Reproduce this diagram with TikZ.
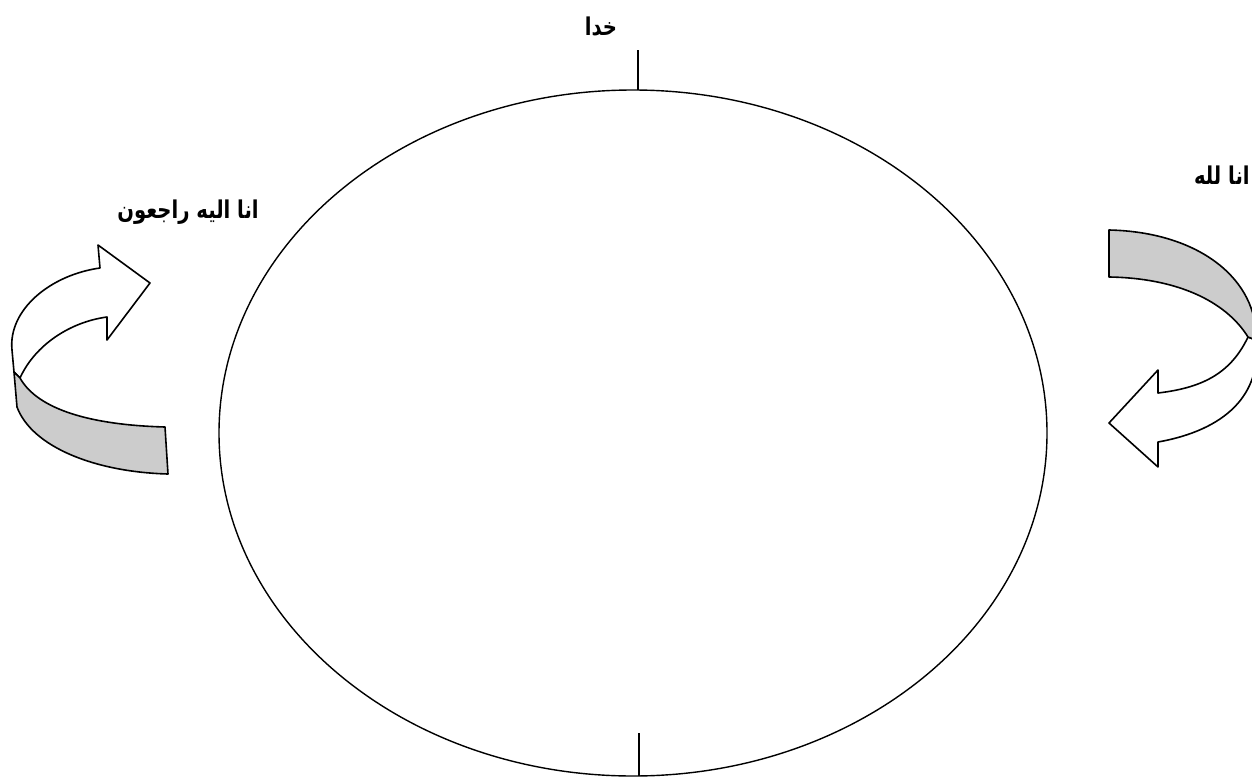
\documentclass[tikz,border=0pt]{standalone}
\usepackage{fontspec}
\TeXXeTstate=1
\newfontfamily\arabicfont[Script=Arabic]{DejaVu Sans}
\definecolor{bandgray}{RGB}{204,204,204}
\tikzset{
  outl/.style={draw=black,line width=0.8pt,line join=round},
  lbl/.style={font=\arabicfont\bfseries\fontsize{9.8}{12}\selectfont,inner sep=0pt,yscale=1.25}
}
\begin{document}
\begin{tikzpicture}[x=0.5pt,y=-0.5pt]
\useasboundingbox (0,0) rectangle (1252,776);
\clip (0,0) rectangle (1252,776);
\fill[white] (0,0) rectangle (1252,776);
% circle
\draw[outl,line width=0.7pt] (633,433) ellipse [x radius=414, y radius=343];
\coordinate (ctop) at (638,90);
\coordinate (ctopend) at (638,50);
\coordinate (cbot) at (639,776);
\coordinate (cbotend) at (639,733);
\draw[outl] (ctopend) -- (ctop);
\draw[outl] (cbotend) -- (cbot);
% labels
\node[lbl] (god) at (601,27) {\beginR خدا\endR};
\node[lbl] (ret) at (188,212) {\beginR انا اليه راجعون\endR};
\node[lbl,anchor=east] (from) at (1250,175) {\beginR انا لله\endR};
% left curved arrow
\path[outl,fill=white] (20,378) .. controls (35,345) and (70,322) .. (107,317)
  -- (107,340) -- (150,283) -- (98,245) -- (100,268)
  .. controls (50,275) and (8,310) .. (12,350) -- (14,372) -- cycle;
\path[outl,fill=bandgray] (14,372) -- (17,407)
  .. controls (32,447) and (95,472) .. (168,474) -- (165,427)
  .. controls (92,425) and (38,410) .. (20,378) -- cycle;
% right curved arrow
\path[outl,fill=white] (1248,337) .. controls (1230,375) and (1200,388) .. (1158,393)
  -- (1158,370) -- (1109,423) -- (1158,467) -- (1158,442)
  .. controls (1225,430) and (1262,395) .. (1256,340) -- cycle;
\path[outl,fill=bandgray] (1109,230) .. controls (1200,232) and (1258,280) .. (1256,340)
  -- (1248,337) .. controls (1225,300) and (1175,278) .. (1109,277) -- cycle;
\end{tikzpicture}
\end{document}
